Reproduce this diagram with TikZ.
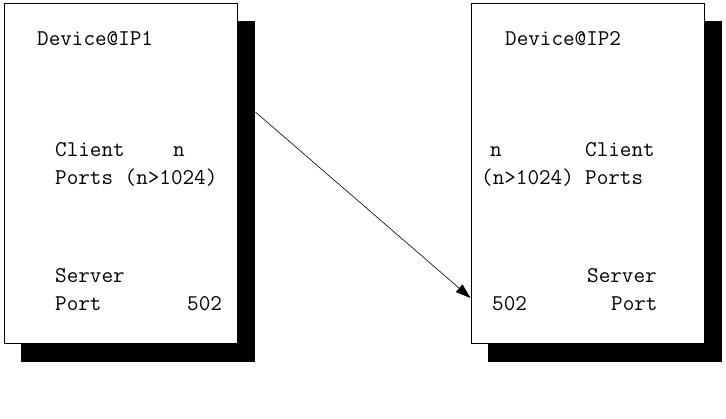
\documentclass[tikz,border=0pt]{standalone}
\usepackage{fontspec}
\usetikzlibrary{arrows.meta,positioning}

\begin{document}
\begin{tikzpicture}[
  x=1pt, y=-1pt,
  device/.style={rectangle, draw, fill=white, line width=0.8pt, minimum width=233pt, minimum height=340pt, anchor=north west, inner sep=0pt},
  shade/.style={rectangle, fill=black, minimum width=234pt, minimum height=341pt, anchor=north west, inner sep=0pt},
  txt/.style={anchor=base west, inner sep=0pt, font=\ttfamily\fontsize{22.5}{22.5}\selectfont},
  arrow/.style={-{Triangle[length=15pt,width=10pt]}, line width=0.6pt}
]
\useasboundingbox (0,0) rectangle (726,419);

\node[shade] (shade1) at (21,21) {};
\node[device] (dev1) at (3.5,3.5) {};
\node[shade] (shade2) at (488,21) {};
\node[device] (dev2) at (470.5,3.5) {};

\node[txt] (name1) at (37,46) {Device@IP1};
\node[txt] (client1) at (55,157) {Client};
\node[txt] (n1) at (173,157) {n};
\node[txt] (ports1) at (55,185) {Ports (n>1024)};
\node[txt] (server1) at (55,283) {Server};
\node[txt] (port1) at (55,311) {Port};
\node[txt] (num1) at (187,311) {502};

\node[txt] (name2) at (505,46) {Device@IP2};
\node[txt] (n2) at (490,157) {n};
\node[txt] (client2) at (585,157) {Client};
\node[txt] (range2) at (481,185) {(n>1024)};
\node[txt] (ports2) at (585,185) {Ports};
\node[txt] (server2) at (587,283) {Server};
\node[txt] (num2) at (492,311) {502};
\node[txt] (port2) at (611,311) {Port};

\coordinate (out1) at (shade1.east |- 0,112);
\coordinate (in2) at (dev2.west |- 0,298);
\draw[arrow] (out1) -- (in2);

\end{tikzpicture}
\end{document}
